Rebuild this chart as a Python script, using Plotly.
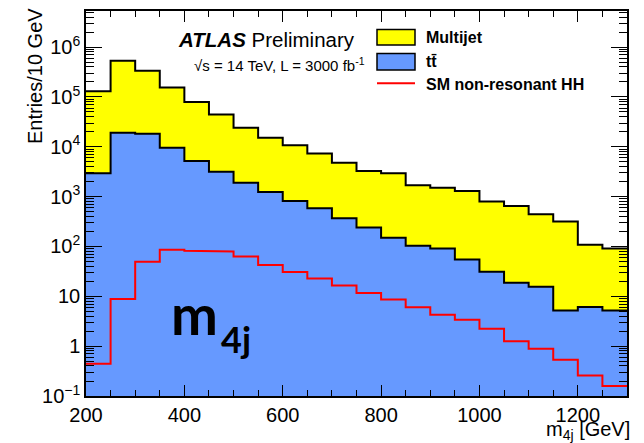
import plotly.graph_objects as go

# ---------------- data ----------------
bin_edges = [200, 250, 300, 350, 400, 450, 500, 550, 600, 650, 700, 750, 800,
             850, 900, 950, 1000, 1050, 1100, 1150, 1200, 1250, 1300]

ttbar = [2940, 19100, 18200, 9550, 5180, 3160, 1910, 1240, 820, 586, 370, 240,
         149, 103, 91, 55, 31.2, 18.8, 15.6, 5.2, 6.1, 5.2]

multijet = [127000, 516000, 319000, 146000, 74200, 41300, 22100, 13900, 9980,
            6790, 4420, 3030, 2790, 1590, 1420, 1245, 763, 632, 429, 311, 102, 86]

hh = [0.445, 8.87, 49.4, 85.9, 82.0, 79.4, 63.1, 42.5, 30.8, 22.9, 16.4, 11.6,
      8.59, 6.03, 4.25, 3.37, 2.23, 1.26, 0.887, 0.535, 0.259, 0.158]

y_tickvals = [0.1, 1, 10, 100, 1e3, 1e4, 1e5, 1e6]
y_ticktext = ["10<sup>\u22121</sup>", "1", "10", "10<sup>2</sup>", "10<sup>3</sup>",
              "10<sup>4</sup>", "10<sup>5</sup>", "10<sup>6</sup>"]
x_tickvals = [200, 400, 600, 800, 1000, 1200]

# ---------------- helpers ----------------
W, H = 644, 443
ML, MR, MT, MB = 86, 17, 9, 47
PW, PH = W - ML - MR, H - MT - MB


def px(x):
    return (x - ML) / PW


def py(y):
    return (H - MB - y) / PH


def step(vals):
    xs, ys = [], []
    for i, v in enumerate(vals):
        xs += [bin_edges[i], bin_edges[i + 1]]
        ys += [v, v]
    return xs, ys


def polygon(vals, floor=1e-3):
    xs, ys = step(vals)
    return [bin_edges[0]] + xs + [bin_edges[-1]], [floor] + ys + [floor]


total = [m + t for m, t in zip(multijet, ttbar)]

YELLOW = "#FFFF00"
BLUE = "#6699FF"
RED = "#FF0000"
FONT = "Liberation Sans, Arial, Helvetica, sans-serif"

fig = go.Figure()

# fills
xp, yp = polygon(total)
fig.add_trace(go.Scatter(x=xp, y=yp, mode="lines", fill="toself", fillcolor=YELLOW,
                         line=dict(width=0), showlegend=False, hoverinfo="skip"))
xp, yp = polygon(ttbar)
fig.add_trace(go.Scatter(x=xp, y=yp, mode="lines", fill="toself", fillcolor=BLUE,
                         line=dict(width=0), showlegend=False, hoverinfo="skip"))
# outlines
xs, ys = step(total)
fig.add_trace(go.Scatter(x=xs, y=ys, mode="lines", line=dict(color="black", width=2),
                         showlegend=False))
xs, ys = step(ttbar)
fig.add_trace(go.Scatter(x=xs, y=ys, mode="lines", line=dict(color="black", width=2),
                         showlegend=False))
xs, ys = step(hh)
fig.add_trace(go.Scatter(x=xs, y=ys, mode="lines", line=dict(color=RED, width=2),
                         showlegend=False))

minor_y = [m * 10 ** e for e in range(-1, 7) for m in range(2, 10)]
minor_x = [v for v in range(200, 1301, 50) if v not in x_tickvals]

fig.update_layout(
    width=W, height=H,
    margin=dict(l=ML, r=MR, t=MT, b=MB, pad=0),
    paper_bgcolor="white", plot_bgcolor="white",
    font=dict(family=FONT, size=20, color="black"),
    xaxis=dict(range=[200, 1300], tickvals=x_tickvals, ticks="inside", ticklen=11,
               tickwidth=1, tickcolor="black", showline=True, linecolor="black",
               linewidth=1.5, mirror="allticks", showgrid=False, zeroline=False,
               tickfont=dict(size=20, family=FONT),
               minor=dict(tickvals=minor_x, ticks="inside", ticklen=6,
                          tickcolor="black", showgrid=False)),
    yaxis=dict(type="log", range=[-1, -1 + PH / 50.1], tickvals=y_tickvals,
               ticktext=y_ticktext, ticks="inside", ticklen=16, tickwidth=1,
               tickcolor="black", showline=True, linecolor="black", linewidth=1.5,
               mirror="allticks", showgrid=False, zeroline=False,
               tickfont=dict(size=20, family=FONT),
               minor=dict(tickvals=minor_y, ticks="inside", ticklen=8,
                          tickcolor="black", showgrid=False)),
)

shapes = [
    dict(type="rect", xref="paper", yref="paper", x0=px(377), x1=px(415),
         y0=py(43.3), y1=py(27.7), fillcolor=YELLOW, line=dict(color="black", width=1.5)),
    dict(type="rect", xref="paper", yref="paper", x0=px(377), x1=px(415),
         y0=py(68.3), y1=py(51.7), fillcolor=BLUE, line=dict(color="black", width=1.5)),
    dict(type="line", xref="paper", yref="paper", x0=px(377), x1=px(415),
         y0=py(81.7), y1=py(81.7), line=dict(color=RED, width=2)),
]
fig.update_layout(shapes=shapes)

ann = [
    dict(text="<b>Multijet</b>", x=px(424), y=py(35.5), size=16),
    dict(text="<b>tt\u0304</b>", x=px(424), y=py(60), size=16),
    dict(text="<b>SM non-resonant HH</b>", x=px(424), y=py(83), size=16),
    dict(text="<b><i>ATLAS</i></b> Preliminary", x=px(176), y=py(38), size=20.5),
    dict(text="\u221as = 14 TeV, L = 3000 fb<sup>-1</sup>", x=px(192), y=py(63), size=15),
]
for a in ann:
    fig.add_annotation(text=a["text"], x=a["x"], y=a["y"], xref="paper", yref="paper",
                       xanchor="left", yanchor="middle", showarrow=False,
                       font=dict(size=a["size"], family=FONT, color="black"))

# big m4j label (main letter and subscript placed separately)
BIGFONT = "Lato, Open Sans, sans-serif"
fig.add_annotation(text="<b>m</b>", x=px(169), y=py(313), xref="paper",
                   yref="paper", xanchor="left", yanchor="middle", showarrow=False,
                   font=dict(size=56, family=BIGFONT, color="black"))
fig.add_annotation(text="<b>4j</b>", x=px(219), y=py(339), xref="paper",
                   yref="paper", xanchor="left", yanchor="middle", showarrow=False,
                   font=dict(size=36, family=BIGFONT, color="black"))

# axis titles
fig.add_annotation(text="Entries/10 GeV", textangle=-90, x=px(35), y=py(4),
                   xref="paper", yref="paper", xanchor="center", yanchor="top",
                   showarrow=False, font=dict(size=20, family=FONT))
fig.add_annotation(text="m<sub>4j</sub> [GeV]", x=px(632), y=py(431),
                   xref="paper", yref="paper", xanchor="right", yanchor="middle",
                   showarrow=False, font=dict(size=20, family=FONT))

fig.write_html("out.html", config={"displayModeBar": False},
               post_script="document.body.style.margin='0px';"
               "document.body.style.padding='0px';"
               "document.documentElement.style.overflow='hidden';")
